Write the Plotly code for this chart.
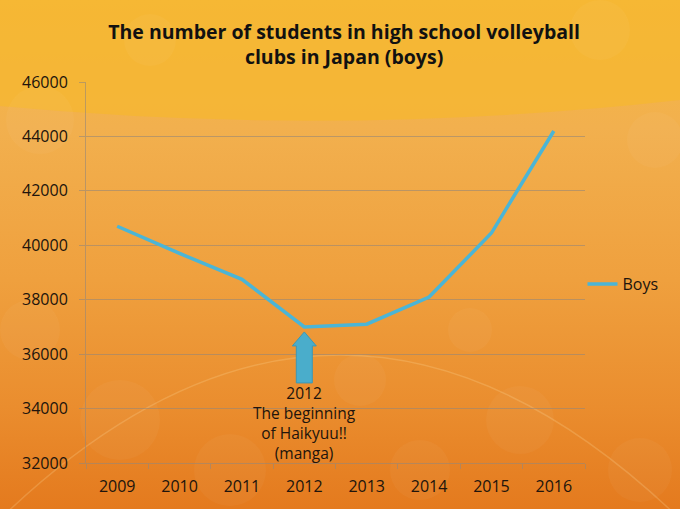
import base64

import plotly.graph_objects as go

# data
years = ["2009", "2010", "2011", "2012", "2013", "2014", "2015", "2016"]
boys = [40700, 39700, 38750, 37000, 37100, 38100, 40450, 44200]
y_ticks = [32000, 34000, 36000, 38000, 40000, 42000, 44000, 46000]

title_text = "The number of students in high school volleyball<br>clubs in Japan (boys)"
note_text = "2012<br>The beginning<br>of Haikyuu!!<br>(manga)"
note_idx = years.index("2012")

W, H = 680, 509
M_L, M_R, M_T, M_B = 86, 95, 82, 46
FONT = "Open Sans"
INK = "#21140c"
GRID = "rgba(150,135,120,0.6)"
LINE_BLUE = "#4BB5D6"
ARROW_BLUE = "#4AADCB"


def _background_svg() -> str:
    """
    Fundo laranja em degradê, no estilo do slide original.
    """
    flowers = ""
    for cx, cy, r in [(40, 120, 34), (150, 40, 26), (600, 30, 30), (655, 140, 28),
                      (120, 420, 40), (230, 470, 36), (420, 470, 30), (520, 420, 34),
                      (640, 470, 32), (360, 380, 26), (30, 330, 30), (470, 330, 22)]:
        flowers += (f'<circle cx="{cx}" cy="{cy}" r="{r}" fill="#ffffff" '
                    f'fill-opacity="0.035"/>')
    svg = (
        f'<svg xmlns="http://www.w3.org/2000/svg" width="{W}" height="{H}" '
        f'viewBox="0 0 {W} {H}" preserveAspectRatio="none">'
        '<defs><linearGradient id="g" x1="0" y1="0" x2="0" y2="1">'
        '<stop offset="0" stop-color="#F5BA40"/>'
        '<stop offset="0.25" stop-color="#F2B04E"/>'
        '<stop offset="0.55" stop-color="#EFA03E"/>'
        '<stop offset="0.8" stop-color="#EA8D2E"/>'
        '<stop offset="1" stop-color="#E47A1E"/>'
        '</linearGradient></defs>'
        f'<rect width="{W}" height="{H}" fill="url(#g)"/>'
        '<path d="M0,0 H680 V100 Q340,138 0,106 Z" fill="#F6B730" fill-opacity="0.75"/>'
        '<path d="M-40,560 Q340,150 720,560" fill="none" stroke="#FFE3AA" '
        'stroke-opacity="0.22" stroke-width="1.5"/>'
        + flowers +
        '</svg>'
    )
    return "data:image/svg+xml;base64," + base64.b64encode(svg.encode()).decode()


fig = go.Figure()

fig.add_trace(
    go.Scatter(
        x=years,
        y=boys,
        mode="lines",
        name="Boys",
        line=dict(color=LINE_BLUE, width=3.5),
        hoverinfo="x+y",
    )
)

plot_w = W - M_L - M_R
plot_h = H - M_T - M_B

fig.add_layout_image(
    dict(
        source=_background_svg(),
        xref="paper",
        yref="paper",
        x=-M_L / plot_w,
        y=1 + M_T / plot_h,
        sizex=W / plot_w,
        sizey=H / plot_h,
        xanchor="left",
        yanchor="top",
        sizing="stretch",
        layer="below",
    )
)

# seta azul apontando para 2012 (em pixels, ancorada no ponto de 2012)
fig.add_shape(
    type="path",
    xref="x",
    yref="y",
    xsizemode="pixel",
    ysizemode="pixel",
    xanchor=note_idx,
    yanchor=boys[note_idx],
    path="M 0,-5 L 12,-19 L 8,-19 L 8,-56 L -8,-56 L -8,-19 L -12,-19 Z",
    fillcolor=ARROW_BLUE,
    line=dict(color="#3E98B3", width=1),
    layer="above",
)

fig.add_annotation(
    x=note_idx,
    y=y_ticks[0],
    xref="x",
    yref="y",
    yanchor="bottom",
    yshift=-3,
    text=note_text,
    showarrow=False,
    align="center",
    font=dict(family=FONT, size=15.5, color=INK),
)

fig.update_layout(
    width=W,
    height=H,
    margin=dict(l=M_L, r=M_R, t=M_T, b=M_B, autoexpand=False),
    paper_bgcolor="#EE9C3A",
    plot_bgcolor="rgba(0,0,0,0)",
    font=dict(family=FONT, size=16, color=INK),
    title=dict(
        text=title_text,
        x=0.506,
        xanchor="center",
        y=1 - 39 / H,
        yanchor="top",
        font=dict(family=FONT, size=19.5, color="#111111", weight="bold"),
    ),
    xaxis=dict(
        type="category",
        categoryorder="array",
        categoryarray=years,
        range=[-0.5, len(years) - 0.5],
        automargin=False,
        showgrid=False,
        showline=True,
        linecolor=GRID,
        ticks="outside",
        tickson="boundaries",
        ticklen=5,
        tickcolor=GRID,
        tickangle=0,
        ticklabelstandoff=9,
        tickfont=dict(family=FONT, size=16, color=INK),
    ),
    yaxis=dict(
        range=[y_ticks[0], y_ticks[-1]],
        tickvals=y_ticks,
        tickformat="d",
        automargin=False,
        showgrid=True,
        gridcolor=GRID,
        gridwidth=1,
        showline=True,
        linecolor=GRID,
        ticks="outside",
        ticklen=6,
        tickcolor=GRID,
        ticklabelstandoff=8,
        zeroline=False,
        tickfont=dict(family=FONT, size=16, color=INK),
    ),
    showlegend=True,
    legend=dict(
        x=0.995,
        y=(H - M_B - 284) / plot_h,
        xanchor="left",
        yanchor="middle",
        bgcolor="rgba(0,0,0,0)",
        font=dict(family=FONT, size=16, color=INK),
    ),
)

# a página padrão tem margem de 8px no body; zera para a figura ficar no canto
fig.write_html(
    "out.html",
    config={"displayModeBar": False},
    post_script="document.body.style.margin='0';document.body.style.overflow='hidden';",
)
